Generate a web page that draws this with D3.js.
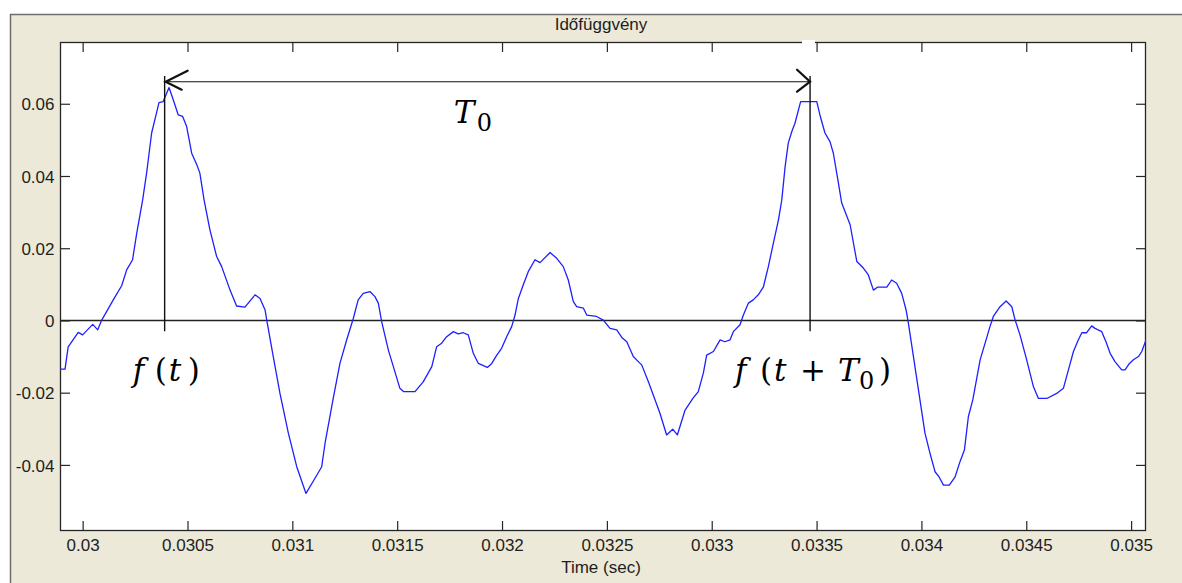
<!DOCTYPE html>
<html>
<head>
<meta charset="utf-8">
<script src="https://cdn.jsdelivr.net/npm/d3@7"></script>
<style>
  html, body { margin: 0; padding: 0; background: #fff; }
  svg { display: block; }
  .tick text { font-family: "Liberation Sans", Arial, sans-serif; font-size: 17px; fill: #1e1e1e; }
  .tick line { stroke: #262626; stroke-width: 1.2; }
  .label { font-family: "Liberation Sans", Arial, sans-serif; font-size: 17px; fill: #1e1e1e; }
  .math { font-family: "DejaVu Serif", "Liberation Serif", serif; font-size: 31px; fill: #000; }
</style>
</head>
<body>
<svg id="chart" width="1182" height="583"></svg>
<script>
const titleText = 'Időfüggvény';
const xLabel = 'Time (sec)';

const xTicks = [0.03, 0.0305, 0.031, 0.0315, 0.032, 0.0325, 0.033, 0.0335, 0.034, 0.0345, 0.035];
const xTickLabels = ['0.03', '0.0305', '0.031', '0.0315', '0.032', '0.0325', '0.033', '0.0335', '0.034', '0.0345', '0.035'];
const yTicks = [-0.04, -0.02, 0, 0.02, 0.04, 0.06];
const yTickLabels = ['-0.04', '-0.02', '0', '0.02', '0.04', '0.06'];

// signal samples (seconds, amplitude)
const timeSec = [
  0.029892, 0.029916, 0.029931, 0.029979, 0.030000, 0.030048, 0.030072, 0.030091, 0.030146, 0.030186,
  0.030210, 0.030238, 0.030258, 0.030286, 0.030305, 0.030329, 0.030350, 0.030364, 0.030384, 0.030412,
  0.030432, 0.030456, 0.030477, 0.030496, 0.030520, 0.030548, 0.030559, 0.030579, 0.030607, 0.030639,
  0.030663, 0.030703, 0.030734, 0.030774, 0.030822, 0.030846, 0.030870, 0.030878, 0.030909, 0.030941,
  0.030981, 0.031021, 0.031065, 0.031108, 0.031140, 0.031156, 0.031195, 0.031227, 0.031259, 0.031291,
  0.031314, 0.031338, 0.031370, 0.031394, 0.031410, 0.031426, 0.031458, 0.031513, 0.031530, 0.031585,
  0.031624, 0.031665, 0.031688, 0.031712, 0.031736, 0.031768, 0.031791, 0.031815, 0.031839, 0.031863,
  0.031887, 0.031930, 0.031951, 0.031975, 0.031998, 0.032022, 0.032046, 0.032062, 0.032078, 0.032101,
  0.032125, 0.032157, 0.032181, 0.032229, 0.032261, 0.032292, 0.032316, 0.032340, 0.032356, 0.032388,
  0.032404, 0.032451, 0.032483, 0.032515, 0.032547, 0.032571, 0.032595, 0.032626, 0.032650, 0.032666,
  0.032698, 0.032730, 0.032753, 0.032785, 0.032814, 0.032836, 0.032873, 0.032910, 0.032936, 0.032960,
  0.032976, 0.033008, 0.033040, 0.033063, 0.033087, 0.033103, 0.033135, 0.033151, 0.033175, 0.033198,
  0.033222, 0.033246, 0.033270, 0.033294, 0.033318, 0.033334, 0.033350, 0.033365, 0.033382, 0.033397,
  0.033424, 0.033501, 0.033516, 0.033540, 0.033564, 0.033580, 0.033599, 0.033620, 0.033660, 0.033692,
  0.033723, 0.033747, 0.033771, 0.033790, 0.033835, 0.033858, 0.033882, 0.033906, 0.033927, 0.033938,
  0.033962, 0.033993, 0.034017, 0.034041, 0.034065, 0.034085, 0.034105, 0.034133, 0.034160, 0.034184,
  0.034205, 0.034224, 0.034245, 0.034280, 0.034327, 0.034343, 0.034375, 0.034404, 0.034431, 0.034447,
  0.034470, 0.034502, 0.034534, 0.034558, 0.034598, 0.034645, 0.034677, 0.034701, 0.034725, 0.034748,
  0.034765, 0.034788, 0.034812, 0.034828, 0.034860, 0.034880, 0.034900, 0.034923, 0.034955, 0.034971,
  0.034992, 0.035011, 0.035035, 0.035051, 0.035071
];
const amplitude = [
  -0.0135, -0.0135, -0.0073, -0.0033, -0.0040, -0.0011, -0.0026, 0.0001, 0.0057, 0.0096,
  0.0140, 0.0168, 0.0242, 0.0333, 0.0408, 0.0519, 0.0569, 0.0603, 0.0606, 0.0645,
  0.0611, 0.0569, 0.0565, 0.0537, 0.0463, 0.0426, 0.0408, 0.0334, 0.0251, 0.0177,
  0.0149, 0.0084, 0.0040, 0.0037, 0.0071, 0.0061, 0.0029, 0.0001, -0.0100, -0.0202,
  -0.0312, -0.0405, -0.0479, -0.0437, -0.0405, -0.0340, -0.0216, -0.0119, -0.0054, 0.0006,
  0.0057, 0.0075, 0.0080, 0.0066, 0.0048, -0.0003, -0.0082, -0.0188, -0.0197, -0.0197,
  -0.0170, -0.0128, -0.0073, -0.0063, -0.0045, -0.0031, -0.0037, -0.0034, -0.0040, -0.0091,
  -0.0119, -0.0130, -0.0119, -0.0096, -0.0077, -0.0045, -0.0017, 0.0015, 0.0061, 0.0098,
  0.0135, 0.0168, 0.0160, 0.0188, 0.0172, 0.0149, 0.0112, 0.0052, 0.0038, 0.0034,
  0.0015, 0.0011, 0.0001, -0.0022, -0.0026, -0.0047, -0.0059, -0.0100, -0.0114, -0.0123,
  -0.0170, -0.0220, -0.0257, -0.0317, -0.0301, -0.0317, -0.0248, -0.0216, -0.0197, -0.0146,
  -0.0096, -0.0086, -0.0054, -0.0059, -0.0054, -0.0031, -0.0012, 0.0015, 0.0048, 0.0057,
  0.0071, 0.0092, 0.0149, 0.0214, 0.0278, 0.0333, 0.0426, 0.0491, 0.0523, 0.0546,
  0.0606, 0.0606, 0.0569, 0.0519, 0.0495, 0.0463, 0.0398, 0.0325, 0.0265, 0.0163,
  0.0145, 0.0126, 0.0084, 0.0092, 0.0092, 0.0112, 0.0103, 0.0075, 0.0029, -0.0008,
  -0.0100, -0.0220, -0.0312, -0.0368, -0.0419, -0.0434, -0.0456, -0.0456, -0.0434, -0.0391,
  -0.0359, -0.0266, -0.0220, -0.0109, -0.0017, 0.0011, 0.0038, 0.0054, 0.0038, 0.0001,
  -0.0040, -0.0109, -0.0183, -0.0216, -0.0216, -0.0202, -0.0188, -0.0137, -0.0086, -0.0054,
  -0.0034, -0.0034, -0.0015, -0.0022, -0.0031, -0.0059, -0.0091, -0.0114, -0.0137, -0.0137,
  -0.0119, -0.0109, -0.0100, -0.0086, -0.0054
];

// period annotation
const periodStart = 0.030391;
const periodEnd = 0.033469;
const arrowLevel = 0.0661;
const markerTop = 0.0677;
const markerBottom = -0.0030;

const xDomain = [0.029892, 0.035071];
const yDomain = [-0.0583, 0.0771];

const plot = { left: 60, top: 42, right: 1146, bottom: 531 };

const svg = d3.select('#chart');

// figure background
svg.append('rect')
  .attr('x', 10).attr('y', 14)
  .attr('width', 1172).attr('height', 569)
  .attr('fill', '#ece9d8');
svg.append('path')
  .attr('d', 'M10.5,583 V14.5 H1182')
  .attr('fill', 'none')
  .attr('stroke', '#6e6e6e')
  .attr('stroke-width', 1.5);

// plot area
svg.append('rect')
  .attr('x', plot.left).attr('y', plot.top)
  .attr('width', plot.right - plot.left).attr('height', plot.bottom - plot.top)
  .attr('fill', '#fff');

const x = d3.scaleLinear().domain(xDomain).range([plot.left, plot.right]);
const y = d3.scaleLinear().domain(yDomain).range([plot.bottom, plot.top]);

const tickLen = 10;

// axes, MATLAB style: ticks inside on all four sides
svg.append('g')
  .attr('transform', `translate(0,${plot.bottom})`)
  .call(d3.axisBottom(x).tickValues(xTicks)
    .tickFormat((d, i) => xTickLabels[i])
    .tickSizeInner(-tickLen).tickSizeOuter(0).tickPadding(8))
  .call(g => g.select('.domain').remove());

svg.append('g')
  .attr('transform', `translate(0,${plot.top})`)
  .call(d3.axisTop(x).tickValues(xTicks).tickFormat('')
    .tickSizeInner(-tickLen).tickSizeOuter(0))
  .call(g => g.select('.domain').remove());

svg.append('g')
  .attr('transform', `translate(${plot.left},0)`)
  .call(d3.axisLeft(y).tickValues(yTicks)
    .tickFormat((d, i) => yTickLabels[i])
    .tickSizeInner(-tickLen).tickSizeOuter(0).tickPadding(5.5))
  .call(g => g.select('.domain').remove())
  .call(g => g.selectAll('.tick text').attr('dy', '0.36em'));

svg.append('g')
  .attr('transform', `translate(${plot.right},0)`)
  .call(d3.axisRight(y).tickValues(yTicks).tickFormat('')
    .tickSizeInner(-tickLen).tickSizeOuter(0))
  .call(g => g.select('.domain').remove());

svg.selectAll('.tick text').attr('font-family', null).attr('font-size', null);

// box
svg.append('rect')
  .attr('x', plot.left + 0.5).attr('y', plot.top + 0.5)
  .attr('width', plot.right - plot.left - 1).attr('height', plot.bottom - plot.top - 1)
  .attr('fill', 'none')
  .attr('stroke', '#262626')
  .attr('stroke-width', 1.3);

// zero line
svg.append('line')
  .attr('x1', plot.left).attr('x2', plot.right)
  .attr('y1', y(0)).attr('y2', y(0))
  .attr('stroke', '#222')
  .attr('stroke-width', 1.4);

// signal
const points = timeSec.map((t, i) => ({ t, v: amplitude[i] }));
svg.append('clipPath').attr('id', 'clip')
  .append('rect')
  .attr('x', plot.left).attr('y', plot.top)
  .attr('width', plot.right - plot.left).attr('height', plot.bottom - plot.top);

svg.append('path')
  .datum(points)
  .attr('clip-path', 'url(#clip)')
  .attr('d', d3.line().x(d => x(d.t)).y(d => y(d.v)))
  .attr('fill', 'none')
  .attr('stroke', '#1f1fff')
  .attr('stroke-width', 1.3)
  .attr('stroke-linejoin', 'round');

// period markers and arrow
const ann = svg.append('g').attr('stroke', '#111').attr('fill', 'none');
[periodStart, periodEnd].forEach(t => {
  ann.append('line')
    .attr('x1', x(t)).attr('x2', x(t))
    .attr('y1', y(markerTop)).attr('y2', y(markerBottom))
    .attr('stroke-width', 1.4);
});
ann.append('line')
  .attr('x1', x(periodStart)).attr('x2', x(periodEnd))
  .attr('y1', y(arrowLevel)).attr('y2', y(arrowLevel))
  .attr('stroke-width', 1.2);

const ax0 = x(periodStart), ax1 = x(periodEnd), ay = y(arrowLevel);
ann.append('path')
  .attr('d', `M${ax0 + 23},${ay - 11} L${ax0 + 1},${ay} L${ax0 + 17},${ay + 8}`)
  .attr('stroke-width', 2.2).attr('stroke-linecap', 'round');
ann.append('path')
  .attr('d', `M${ax1 - 13},${ay - 12} L${ax1},${ay} L${ax1 - 13},${ay + 10}`)
  .attr('stroke-width', 2.2).attr('stroke-linecap', 'round');

// white nick in the top border, as in the source
svg.append('rect')
  .attr('x', 802).attr('y', 40).attr('width', 13).attr('height', 4)
  .attr('fill', '#fff');

// math labels: glyph, italic?, offset from anchor, subscript?
function mathLabel(cx, baseY, glyphs) {
  const txt = svg.append('text').attr('class', 'math');
  glyphs.forEach(([ch, italic, dx, sub]) => {
    txt.append('tspan')
      .attr('x', cx + dx)
      .attr('y', sub ? baseY + 8 : baseY)
      .attr('font-style', italic ? 'italic' : 'normal')
      .attr('font-size', sub ? 24 : null)
      .text(ch);
  });
}

const labelY = y(0) + 61;
mathLabel(x(periodStart), labelY, [
  ['f', true, -32], ['(', false, -10], ['t', true, 4], [')', false, 23]
]);
mathLabel(x(periodEnd), labelY, [
  ['f', true, -75], ['(', false, -50], ['t', true, -36], ['+', false, -10],
  ['T', true, 28], ['0', false, 49, true], [')', false, 69]
]);
mathLabel(x(periodStart), y(arrowLevel) + 41, [
  ['T', true, 289], ['0', false, 312, true]
]);

// title and x label
svg.append('text').attr('class', 'label')
  .attr('x', 601).attr('y', 30)
  .attr('text-anchor', 'middle')
  .text(titleText);
svg.append('text').attr('class', 'label')
  .attr('x', 601).attr('y', 573)
  .attr('text-anchor', 'middle')
  .text(xLabel);
</script>
</body>
</html>
